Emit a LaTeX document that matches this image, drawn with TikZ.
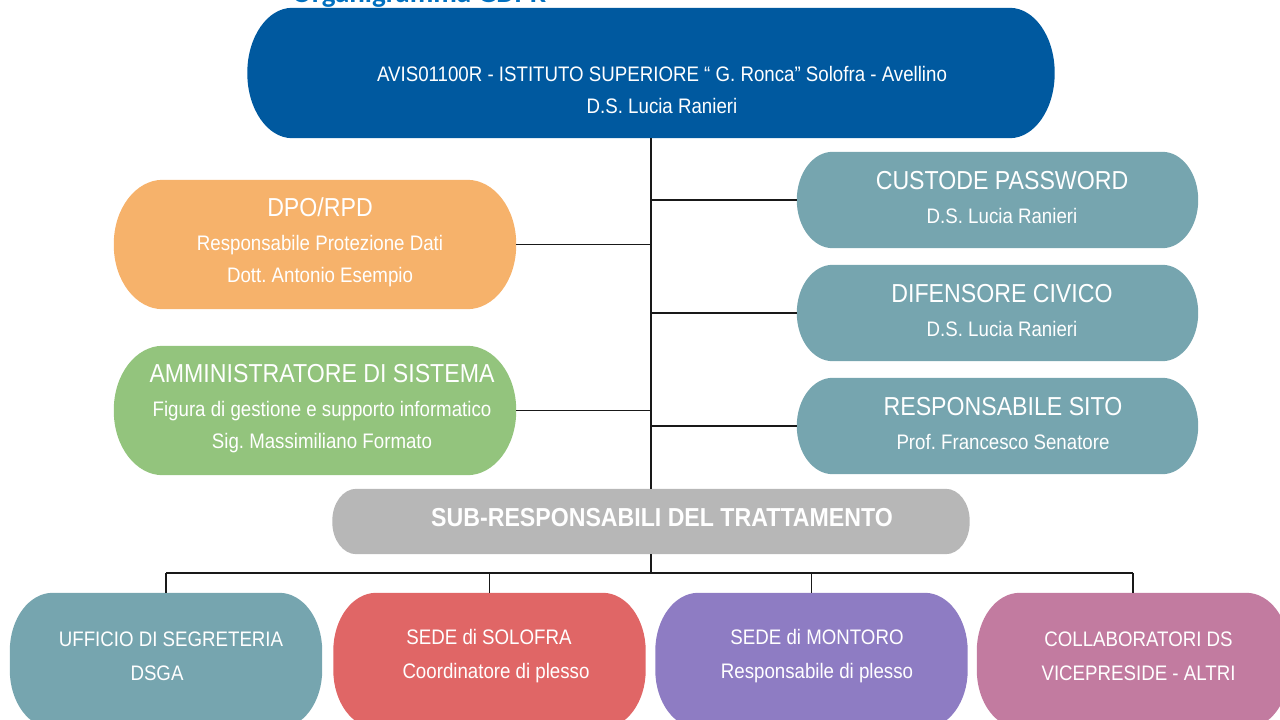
\documentclass[tikz,border=0pt]{standalone}
\usepackage{fontspec}
\setmainfont{Liberation Sans}[FakeStretch=0.89]
\newfontfamily\titlefont{Carlito}
\usetikzlibrary{backgrounds}
\definecolor{topblue}{RGB}{0,89,159}
\definecolor{dpoorange}{RGB}{246,178,107}
\definecolor{ammgreen}{RGB}{147,196,125}
\definecolor{roleteal}{RGB}{118,165,175}
\definecolor{subgray}{RGB}{183,183,183}
\definecolor{sedered}{RGB}{224,102,102}
\definecolor{sedepurple}{RGB}{142,124,195}
\definecolor{collabpink}{RGB}{194,123,160}
\definecolor{titleblue}{RGB}{0,112,192}
\tikzset{box/.style 2 args={minimum width=#1,minimum height=#2,inner sep=0pt},
    lbl/.style={text=white,align=center,inner sep=0pt,font=\fontsize{21}{32}\selectfont},
    link/.style={draw=black!90,line width=1.7pt}}
\newcommand\hd[1]{{\fontsize{26}{32}\selectfont #1}}
\frenchspacing

\begin{document}
\begin{tikzpicture}[x=1pt,y=-1pt]
      \useasboundingbox (0,0) rectangle (1280,720);
      \node[anchor=base west,inner sep=0pt,text=titleblue,font=\titlefont\bfseries\fontsize{29}{29}\selectfont] (title) at (292,2) {Organigramma GDPR};
      % boxes
      \node[box={807}{130}] (top) at (651,73) {};
      \node[box={402}{129}] (dpo) at (315,244.5) {};
      \node[box={402}{129}] (amm) at (315,410.5) {};
      \node[box={401}{96}] (cus) at (997.5,200) {};
      \node[box={401}{96}] (dif) at (997.5,313) {};
      \node[box={401}{96}] (sit) at (997.5,426) {};
      \node[box={637}{65}] (sub) at (651,521.5) {};
      \foreach \n/\x in {b1/166,b2/489.5,b3/811.5,b4/1133}
        \node[box={312}{135}] (\n) at (\x,660.5) {};
      \begin{scope}[on background layer]
      \foreach \n/\c/\rx/\ry in {top/topblue/45/65,dpo/dpoorange/49/64,amm/ammgreen/49/64,
          cus/roleteal/36/48,dif/roleteal/36/48,sit/roleteal/36/48,sub/subgray/24/32,
          b1/roleteal/43/58,b2/sedered/43/58,b3/sedepurple/43/58,b4/collabpink/43/58}
        \fill[\c] ([xshift=\rx pt]\n.north west) -- ([xshift=-\rx pt]\n.north east)
          arc[start angle=90,end angle=0,x radius=\rx pt,y radius=\ry pt] -- ([yshift=\ry pt]\n.south east)
          arc[start angle=0,end angle=-90,x radius=\rx pt,y radius=\ry pt] -- ([xshift=\rx pt]\n.south west)
          arc[start angle=270,end angle=180,x radius=\rx pt,y radius=\ry pt] -- ([yshift=-\ry pt]\n.north west)
          arc[start angle=180,end angle=90,x radius=\rx pt,y radius=\ry pt] -- cycle;
      \end{scope}
      % texts
      \node[lbl] (top-t) at (662,90) {AVIS01100R - ISTITUTO SUPERIORE “ G. Ronca” Solofra - Avellino\\ D.S. Lucia Ranieri};
      \node[lbl] (dpo-t) at (320,242) {\hd{DPO/RPD}\\[2pt] Responsabile Protezione Dati\\ Dott. Antonio Esempio};
      \node[lbl] (amm-t) at (322,408.5) {\hd{AMMINISTRATORE DI SISTEMA}\\[2pt] Figura di gestione e supporto informatico\\ Sig. Massimiliano Formato};
      \node[lbl] (cus-t) at (1002,197.5) {\hd{CUSTODE PASSWORD}\\[2pt] D.S. Lucia Ranieri};
      \node[lbl] (dif-t) at (1002,311) {\hd{DIFENSORE CIVICO}\\[2pt] D.S. Lucia Ranieri};
      \node[lbl] (sit-t) at (1003,424) {\hd{RESPONSABILE SITO}\\[2pt] Prof. Francesco Senatore};
      \node[lbl,font=\bfseries\fontsize{26}{32}\selectfont] (sub-t) at (662,518) {SUB-RESPONSABILI DEL TRATTAMENTO};
      \node[lbl] (b1-t) at (171,656) {UFFICIO DI SEGRETERIA\\[2pt] DSGA\hspace*{28pt}};
      \node[lbl] (b2-t) at (496,656) {SEDE di SOLOFRA\hspace*{14pt}\\[2pt] Coordinatore di plesso};
      \node[lbl] (b3-t) at (817,656) {SEDE di MONTORO\\[2pt] Responsabile di plesso};
      \node[lbl] (b4-t) at (1138.5,656) {COLLABORATORI DS\\[2pt] VICEPRESIDE - ALTRI};
      % connectors
      \draw[link] (top.south) -- (sub.north);
      \foreach \n in {dpo,amm} \draw[link] (\n.east) -- (\n.east -| top.south);
      \foreach \n in {cus,dif,sit} \draw[link] (\n.west) -- (\n.west -| top.south);
      \coordinate (bus) at (651,573);
      \draw[link] (sub.south) -- (bus);
      \draw[link] (bus -| b1.north) -- (bus -| b4.north);
      \foreach \i in {1,...,4} \draw[link] (bus -| b\i.north) -- (b\i.north);
\end{tikzpicture}
\end{document}
